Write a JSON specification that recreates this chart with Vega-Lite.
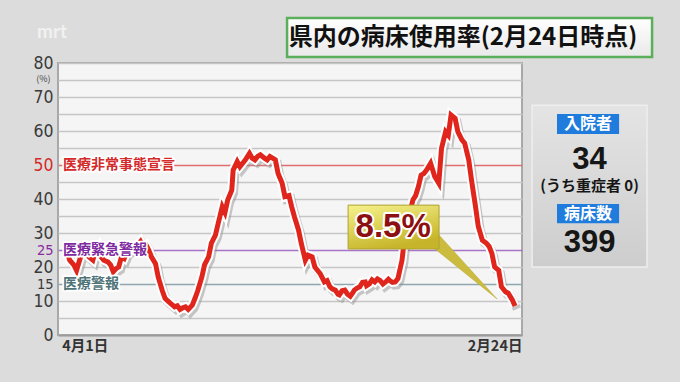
{
  "$schema": "https://vega.github.io/schema/vega-lite/v6.json",
  "width": 464,
  "height": 272,
  "autosize": "none",
  "padding": {"left": 58, "top": 63, "right": 158, "bottom": 47},
  "background": "#dcdcdc",
  "config": {
    "view": {"fill": "#f5f5f5", "stroke": "#a8a8a8", "strokeWidth": 2},
    "font": "Noto Sans CJK JP"
  },
  "encoding": {
    "x": {
      "field": "day", "type": "quantitative",
      "scale": {"domain": [-6.6, 334.1], "nice": false, "zero": false},
      "axis": {
        "title": null, "values": [13, 314], "grid": false, "ticks": false,
        "labelExpr": "datum.value < 100 ? '4月1日' : '2月24日'",
        "labelFont": "Noto Sans CJK JP", "labelFontWeight": "bold", "labelFontSize": 14.5,
        "labelColor": "#333333", "labelPadding": 4,
        "domainColor": "#9a9a9a", "domainWidth": 2
      }
    },
    "y": {
      "field": "v", "type": "quantitative",
      "scale": {"domain": [0, 80], "nice": false},
      "axis": {
        "title": null,
        "values": [0, 5, 10, 15, 20, 25, 30, 35, 40, 45, 50, 55, 60, 65, 70, 75, 80],
        "labelExpr": "indexof([0,10,15,20,25,30,40,50,60,70,80], datum.value) >= 0 ? datum.label : ''",
        "grid": true,
        "gridColor": {"condition": [
          {"test": "datum.value == 50", "value": "#e07070"},
          {"test": "datum.value == 25", "value": "#a874c8"},
          {"test": "datum.value == 15", "value": "#8fa8b0"}
        ], "value": "#c6c6c6"},
        "gridWidth": 1.5,
        "domain": false, "ticks": false,
        "labelFont": "DejaVu Sans Condensed, Roboto",
        "labelFontSize": {"condition": {"test": "datum.value == 15 || datum.value == 25", "value": 14.5}, "value": 17.5},
        "labelColor": {"condition": [
          {"test": "datum.value == 50", "value": "#d42a2a"},
          {"test": "datum.value == 25", "value": "#8a2aa0"}
        ], "value": "#3a3a3a"},
        "labelPadding": 5
      }
    }
  },
  "layer": [
    {
      "data": {"values": [
        {"day": 0, "v": 24.5}, {"day": 2, "v": 22}, {"day": 5, "v": 20.6}, {"day": 7, "v": 19},
        {"day": 10, "v": 23}, {"day": 12, "v": 27.5}, {"day": 14, "v": 24}, {"day": 16, "v": 23},
        {"day": 19, "v": 22}, {"day": 21, "v": 25}, {"day": 23, "v": 26}, {"day": 25, "v": 23},
        {"day": 27, "v": 22}, {"day": 30, "v": 21.5}, {"day": 32, "v": 20.6}, {"day": 34, "v": 18.6},
        {"day": 36, "v": 19.5}, {"day": 38, "v": 20}, {"day": 40, "v": 23}, {"day": 42, "v": 22.5},
        {"day": 44, "v": 24.5}, {"day": 47, "v": 25}, {"day": 49, "v": 26}, {"day": 52, "v": 26.5},
        {"day": 54, "v": 27.5}, {"day": 56, "v": 26}, {"day": 58, "v": 26.5}, {"day": 60, "v": 25},
        {"day": 62, "v": 23}, {"day": 65, "v": 21}, {"day": 67, "v": 17}, {"day": 70, "v": 13},
        {"day": 72, "v": 10.8}, {"day": 74, "v": 10}, {"day": 76, "v": 9.3}, {"day": 79, "v": 8.3},
        {"day": 81, "v": 8.6}, {"day": 83, "v": 7.5}, {"day": 85, "v": 8}, {"day": 87, "v": 8.3},
        {"day": 89, "v": 7.5}, {"day": 92, "v": 8.8}, {"day": 94, "v": 10.8}, {"day": 96, "v": 13},
        {"day": 99, "v": 17}, {"day": 101, "v": 20.6}, {"day": 104, "v": 23}, {"day": 106, "v": 27},
        {"day": 109, "v": 29.4}, {"day": 111, "v": 32.8}, {"day": 114, "v": 37.7}, {"day": 116, "v": 36},
        {"day": 118, "v": 39.7}, {"day": 121, "v": 42.6}, {"day": 122, "v": 48.5}, {"day": 125, "v": 51},
        {"day": 127, "v": 49.5}, {"day": 129, "v": 50.5}, {"day": 131, "v": 51.5}, {"day": 134, "v": 53.4},
        {"day": 136, "v": 52}, {"day": 138, "v": 51.5}, {"day": 140, "v": 52.5}, {"day": 142, "v": 53},
        {"day": 145, "v": 52}, {"day": 147, "v": 51.5}, {"day": 149, "v": 52.5}, {"day": 151, "v": 52},
        {"day": 153, "v": 51.5}, {"day": 155, "v": 47.5}, {"day": 158, "v": 44.6}, {"day": 160, "v": 40.7},
        {"day": 163, "v": 41}, {"day": 165, "v": 37.7}, {"day": 167, "v": 34.8}, {"day": 170, "v": 30.9},
        {"day": 172, "v": 27}, {"day": 175, "v": 22}, {"day": 177, "v": 23.5}, {"day": 180, "v": 23},
        {"day": 182, "v": 20}, {"day": 186, "v": 18}, {"day": 189, "v": 15.6}, {"day": 191, "v": 16},
        {"day": 193, "v": 14.2}, {"day": 195, "v": 13.5}, {"day": 197, "v": 13.2}, {"day": 199, "v": 12},
        {"day": 200, "v": 11.8}, {"day": 202, "v": 13}, {"day": 204, "v": 13.2}, {"day": 206, "v": 12},
        {"day": 208, "v": 11.4}, {"day": 210, "v": 12.5}, {"day": 211, "v": 13.2}, {"day": 213, "v": 13.8},
        {"day": 215, "v": 14.2}, {"day": 217, "v": 15.5}, {"day": 219, "v": 15.6}, {"day": 220, "v": 14.5},
        {"day": 222, "v": 15}, {"day": 224, "v": 16.2}, {"day": 226, "v": 15.6}, {"day": 228, "v": 16.5},
        {"day": 230, "v": 16}, {"day": 232, "v": 15}, {"day": 234, "v": 15.6}, {"day": 236, "v": 16.4},
        {"day": 237, "v": 16}, {"day": 239, "v": 15.5}, {"day": 241, "v": 15.6}, {"day": 243, "v": 16.6},
        {"day": 246, "v": 22}, {"day": 248, "v": 28.9}, {"day": 251, "v": 34.8}, {"day": 254, "v": 39.7},
        {"day": 256, "v": 41}, {"day": 258, "v": 43.6}, {"day": 260, "v": 47}, {"day": 262, "v": 47.5},
        {"day": 264, "v": 48.5}, {"day": 267, "v": 50.5}, {"day": 270, "v": 46.6}, {"day": 273, "v": 44.6},
        {"day": 275, "v": 54.9}, {"day": 278, "v": 59.8}, {"day": 280, "v": 58.8}, {"day": 282, "v": 64.7},
        {"day": 285, "v": 63.7}, {"day": 287, "v": 59.8}, {"day": 290, "v": 57.4}, {"day": 292, "v": 56.4},
        {"day": 295, "v": 51.5}, {"day": 297, "v": 45.6}, {"day": 300, "v": 37.7}, {"day": 302, "v": 31.9},
        {"day": 305, "v": 27.9}, {"day": 308, "v": 27}, {"day": 310, "v": 26}, {"day": 312, "v": 24},
        {"day": 314, "v": 20}, {"day": 317, "v": 19}, {"day": 319, "v": 14.2}, {"day": 322, "v": 12.7},
        {"day": 324, "v": 12.3}, {"day": 327, "v": 10.3}, {"day": 329, "v": 8.5}
      ]},
      "layer": [
        {"mark": {"type": "line", "stroke": "#8a8a8a", "opacity": 0.45, "strokeWidth": 8.5, "xOffset": 2, "yOffset": 3}},
        {"mark": {"type": "line", "stroke": "#ffffff", "strokeWidth": 9}},
        {"mark": {"type": "line", "stroke": "#e0261c", "strokeWidth": 5}}
      ]
    },
    {
      "data": {"values": [
        {"day": -2.9, "v": 50, "label": "医療非常事態宣言"},
        {"day": -2.9, "v": 25, "label": "医療緊急警報"},
        {"day": -2.9, "v": 15, "label": "医療警報"}
      ]},
      "layer": [
        {
          "mark": {"type": "text", "align": "left", "baseline": "middle", "fontSize": 14, "fontWeight": "bold", "fill": "#ffffff", "stroke": "#ffffff", "strokeWidth": 3.5, "strokeJoin": "round"},
          "encoding": {"text": {"field": "label"}}
        },
        {
          "mark": {"type": "text", "align": "left", "baseline": "middle", "fontSize": 14, "fontWeight": "bold"},
          "encoding": {
            "text": {"field": "label"},
            "color": {"field": "label", "type": "nominal", "legend": null,
              "scale": {"domain": ["医療非常事態宣言", "医療緊急警報", "医療警報"], "range": ["#d42a2a", "#7e2aa0", "#4f7478"]}}
          }
        }
      ]
    },
    {
      "data": {"values": [{"day": -17.3, "v": 75.4, "t": "(%)"}]},
      "mark": {"type": "text", "fontSize": 9, "color": "#444444", "baseline": "middle"},
      "encoding": {"text": {"field": "t"}}
    },
    {
      "data": {"values": [{"day": -11, "v": 89, "t": "mrt"}]},
      "mark": {"type": "text", "fontSize": 19, "fontWeight": "bold", "font": "Lato", "color": "#ffffff", "opacity": 0.6, "baseline": "middle"},
      "encoding": {"text": {"field": "t"}}
    },
    {
      "data": {"values": [{"day": 161.6, "day2": 429.6, "v": 93.2, "v2": 81.8}]},
      "mark": {"type": "rect", "stroke": "#5caf5a", "strokeWidth": 2.5,
        "fill": {"gradient": "linear", "x1": 0, "y1": 0, "x2": 0, "y2": 1,
          "stops": [{"offset": 0, "color": "#ffffff"}, {"offset": 1, "color": "#e9e9e9"}]}},
      "encoding": {"x2": {"field": "day2"}, "y2": {"field": "v2"}}
    },
    {
      "data": {"values": [{"day": 290.8, "v": 87.5, "t": "県内の病床使用率(2月24日時点)"}]},
      "mark": {"type": "text", "fontSize": 24, "fontWeight": "bold", "color": "#111111", "baseline": "middle", "align": "center"},
      "encoding": {"text": {"field": "t"}}
    },
    {
      "data": {"values": [{"day": 341.5, "day2": 425.9, "v": 67.6, "v2": 20}]},
      "mark": {"type": "rect", "stroke": "#eeeeee", "strokeWidth": 1.5,
        "fill": {"gradient": "linear", "x1": 0, "y1": 0, "x2": 0, "y2": 1,
          "stops": [{"offset": 0, "color": "#e4e4e4"}, {"offset": 1, "color": "#cdcdcd"}]}},
      "encoding": {"x2": {"field": "day2"}, "y2": {"field": "v2"}}
    },
    {
      "data": {"values": [
        {"day": 359.8, "day2": 405.4, "v": 65, "v2": 59.1},
        {"day": 359.8, "day2": 405.4, "v": 38.5, "v2": 32.9}
      ]},
      "mark": {"type": "rect", "fill": "#1f7bdc"},
      "encoding": {"x2": {"field": "day2"}, "y2": {"field": "v2"}}
    },
    {
      "data": {"values": [
        {"day": 382.6, "v": 62.1, "t": "入院者"},
        {"day": 382.6, "v": 35.7, "t": "病床数"}
      ]},
      "mark": {"type": "text", "fontSize": 16, "fontWeight": "bold", "color": "#ffffff", "baseline": "middle", "align": "center"},
      "encoding": {"text": {"field": "t"}}
    },
    {
      "data": {"values": [
        {"day": 383.7, "v": 51.6, "t": "34"},
        {"day": 383.7, "v": 27.1, "t": "399"}
      ]},
      "mark": {"type": "text", "font": "Liberation Sans", "fontSize": 31, "fontWeight": "bold", "color": "#161616", "baseline": "middle", "align": "center"},
      "encoding": {"text": {"field": "t"}}
    },
    {
      "data": {"values": [{"day": 383.7, "v": 43.9, "t": "(うち重症者 0)"}]},
      "mark": {"type": "text", "fontSize": 15, "fontWeight": "bold", "color": "#161616", "baseline": "middle", "align": "center"},
      "encoding": {"text": {"field": "t"}}
    },
    {
      "data": {"values": [
        {"day": 270, "v": 30.8, "v2": 25.4},
        {"day": 315.8, "v": 10.6, "v2": 10.6}
      ]},
      "mark": {"type": "area", "fill": "#cbbb3e", "stroke": "#b8a838", "strokeWidth": 0.5},
      "encoding": {"y2": {"field": "v2"}}
    },
    {
      "data": {"values": [{"day": 206.4, "day2": 273.2, "v": 38.2, "v2": 25.3}]},
      "mark": {"type": "rect", "stroke": "#b0a230", "strokeWidth": 1,
        "fill": {"gradient": "linear", "x1": 0, "y1": 0, "x2": 0.4, "y2": 1,
          "stops": [{"offset": 0, "color": "#f6f28c"}, {"offset": 1, "color": "#c6b52a"}]}},
      "encoding": {"x2": {"field": "day2"}, "y2": {"field": "v2"}}
    },
    {
      "data": {"values": [{"day": 239.5, "v": 31.9, "t": "8.5%"}]},
      "layer": [
        {
          "mark": {"type": "text", "font": "Liberation Sans", "fontSize": 33, "fontWeight": "bold", "fill": "#ffffff", "stroke": "#ffffff", "strokeWidth": 4, "strokeJoin": "round", "baseline": "middle", "align": "center"},
          "encoding": {"text": {"field": "t"}}
        },
        {
          "mark": {"type": "text", "font": "Liberation Sans", "fontSize": 33, "fontWeight": "bold", "fill": "#8c0f12", "baseline": "middle", "align": "center"},
          "encoding": {"text": {"field": "t"}}
        }
      ]
    }
  ]
}
